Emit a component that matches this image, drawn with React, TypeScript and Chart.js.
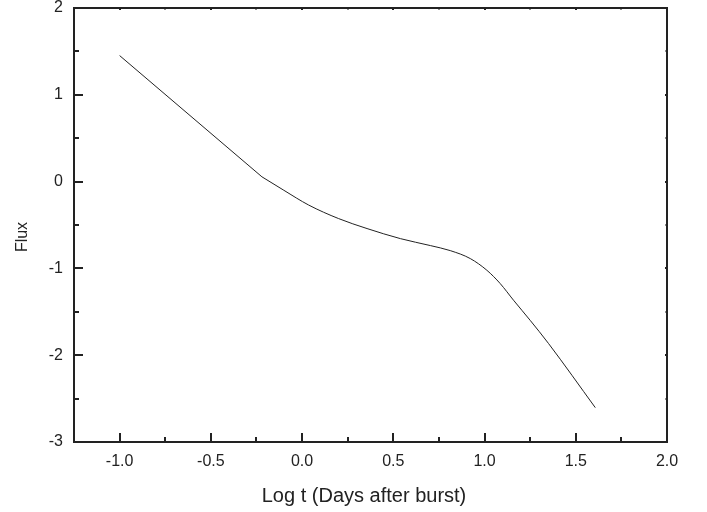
import React, { useEffect, useRef } from "react";
import { Chart, registerables } from "chart.js";

Chart.register(...registerables);

const earlyLogT: number[] = [-1.0, -0.22];
const earlyFlux: number[] = [1.452, 0.055];
const lateLogT: number[] = [-0.22, -0.1, 0.036, 0.2, 0.356, 0.539, 0.703, 0.812, 0.922, 1.013, 1.086, 1.159, 1.25, 1.351, 1.607];
const lateFlux: number[] = [0.055, -0.1, -0.27, -0.426, -0.541, -0.657, -0.737, -0.795, -0.887, -1.022, -1.175, -1.367, -1.598, -1.866, -2.604];
const xTicks: number[] = [-1.0, -0.5, 0.0, 0.5, 1.0, 1.5, 2.0];
const xMinor: number[] = [-0.75, -0.25, 0.25, 0.75, 1.25, 1.75];
const yTicks: number[] = [-3, -2, -1, 0, 1, 2];
const yMinor: number[] = [-2.5, -1.5, -0.5, 0.5, 1.5];
const xTitle = "Log t (Days after burst)";
const yTitle = "Flux";

const FONT = "'Liberation Sans', Arial, sans-serif";

const framePlugin = {
  id: "frame",
  afterDraw(chart: any) {
    const { ctx, chartArea: a, scales } = chart;
    const xs = scales.x, ys = scales.y;
    ctx.save();
    ctx.strokeStyle = "#222";
    ctx.lineWidth = 2;
    ctx.beginPath();
    ctx.rect(a.left, a.top, a.right - a.left, a.bottom - a.top);
    ctx.stroke();
    ctx.beginPath();
    xTicks.forEach((v) => {
      const p = Math.round(xs.getPixelForValue(v));
      ctx.moveTo(p, a.bottom);
      ctx.lineTo(p, a.bottom - 9);
      ctx.moveTo(p, a.top);
      ctx.lineTo(p, a.top + 2);
    });
    xMinor.forEach((v) => {
      const p = Math.round(xs.getPixelForValue(v));
      ctx.moveTo(p, a.bottom);
      ctx.lineTo(p, a.bottom - 5);
      ctx.moveTo(p, a.top);
      ctx.lineTo(p, a.top + 1.5);
    });
    yTicks.forEach((v) => {
      const p = Math.round(ys.getPixelForValue(v));
      ctx.moveTo(a.left, p);
      ctx.lineTo(a.left + 9, p);
      ctx.moveTo(a.right, p);
      ctx.lineTo(a.right - 2, p);
    });
    yMinor.forEach((v) => {
      const p = Math.round(ys.getPixelForValue(v));
      ctx.moveTo(a.left, p);
      ctx.lineTo(a.left + 5, p);
      ctx.moveTo(a.right, p);
      ctx.lineTo(a.right - 1.5, p);
    });
    ctx.stroke();

    ctx.fillStyle = "#222";
    ctx.textAlign = "center";
    ctx.textBaseline = "alphabetic";
    ctx.font = `20px ${FONT}`;
    ctx.fillText(xTitle, 364, 502);
    ctx.font = `16px ${FONT}`;
    ctx.translate(27, 237);
    ctx.rotate(-Math.PI / 2);
    ctx.fillText(yTitle, 0, 0);
    ctx.restore();
  },
};

export default function App() {
  const ref = useRef<HTMLCanvasElement | null>(null);
  useEffect(() => {
    if (!ref.current) return;
    const lineStyle = { borderColor: "#222", borderWidth: 1, pointRadius: 0, fill: false };
    const chart = new Chart(ref.current, {
      type: "line",
      data: {
        datasets: [
          {
            ...lineStyle,
            data: earlyLogT.map((x, i) => ({ x, y: earlyFlux[i] })),
            tension: 0,
          },
          {
            ...lineStyle,
            data: lateLogT.map((x, i) => ({ x, y: lateFlux[i] })),
            cubicInterpolationMode: "monotone",
          },
        ],
      },
      options: {
        animation: false,
        responsive: false,
        maintainAspectRatio: false,
        layout: { padding: { top: 8, right: 40, left: 0, bottom: 0 } },
        plugins: { legend: { display: false }, tooltip: { enabled: false } },
        scales: {
          x: {
            type: "linear",
            min: -1.25,
            max: 2.0,
            afterBuildTicks: (s: any) => {
              s.ticks = xTicks.map((v) => ({ value: v }));
            },
            afterFit: (s: any) => {
              s.height = 70;
              s.paddingLeft = 0;
              s.paddingRight = 0;
            },
            grid: { display: false, drawTicks: false },
            border: { display: false },
            ticks: {
              color: "#222",
              font: { family: FONT, size: 16 },
              padding: 10,
              maxRotation: 0,
              autoSkip: false,
              callback: (v: any) => Number(v).toFixed(1),
            },
          },
          y: {
            type: "linear",
            min: -3,
            max: 2,
            afterBuildTicks: (s: any) => {
              s.ticks = yTicks.map((v) => ({ value: v }));
            },
            afterFit: (s: any) => {
              s.width = 74;
              s.paddingTop = 0;
              s.paddingBottom = 0;
            },
            grid: { display: false, drawTicks: false },
            border: { display: false },
            ticks: {
              color: "#222",
              font: { family: FONT, size: 16 },
              padding: 11,
              autoSkip: false,
              callback: (v: any) => String(v),
            },
          },
        },
      },
      plugins: [framePlugin],
    } as any);
    return () => chart.destroy();
  }, []);
  return (
    <div style={{ position: "absolute", left: 0, top: 0, width: 707, height: 512, background: "#fff" }}>
      <canvas ref={ref} width={707} height={512} style={{ width: 707, height: 512 }} />
    </div>
  );
}
